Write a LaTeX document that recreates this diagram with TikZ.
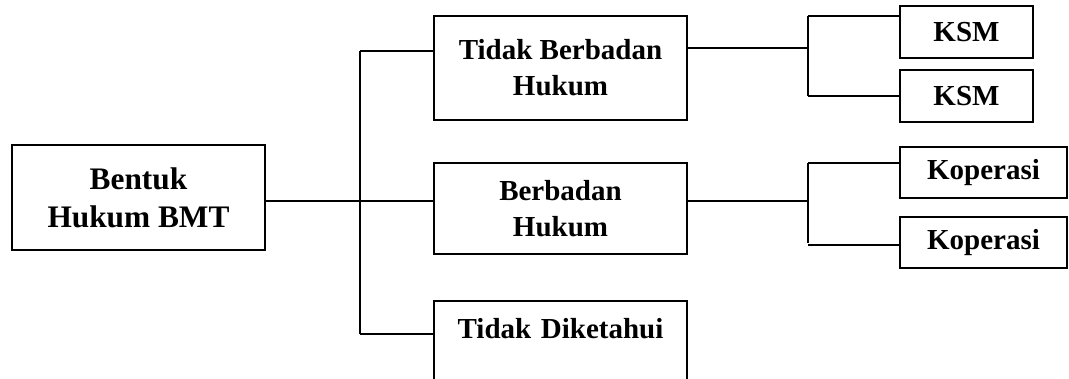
\documentclass[tikz,border=0pt]{standalone}
\usepackage{fontspec}
\setmainfont{Liberation Serif}
\begin{document}
\begin{tikzpicture}[x=0.75pt,y=-0.75pt,
  box/.style={draw,line width=1.3pt,inner sep=0pt,align=center,
    font=\fontsize{21.75}{27}\selectfont\bfseries},
  link/.style={line width=1.5pt}]
\clip (0,0) rectangle (1069,378);

% main boxes
\node[box,minimum width=189.75pt,minimum height=78.75pt,
  font=\fontsize{23.5}{28.5}\selectfont\bfseries] (bentuk) at (138.5,197.5) {Bentuk\\Hukum BMT};
\node[box,minimum width=189.75pt,minimum height=78pt] (tbh) at (560.5,68) {Tidak Berbadan\\Hukum};
\node[box,minimum width=189.75pt,minimum height=68.25pt] (bh) at (560.5,208.5) {Berbadan\\Hukum};
\node[box,anchor=base,text width=189.75pt,text height=27.75pt,text depth=61.5pt] (td) at (560.5,338) {Tidak Diketahui};

% leaf boxes
\node[box,minimum width=99.75pt,minimum height=39pt] (ksma) at (966.5,32) {KSM};
\node[box,minimum width=99.75pt,minimum height=39pt] (ksmb) at (966.5,96) {KSM};
\node[box,minimum width=125.25pt,minimum height=38.25pt] (kopa) at (983.5,172.5) {Koperasi};
\node[box,minimum width=125.25pt,minimum height=38.25pt] (kopb) at (983.5,242.5) {Koperasi};

% main trunk
\coordinate (tTop) at (360,51);
\coordinate (tMid) at (360,201);
\coordinate (tBot) at (360,334);
\draw[link] (tTop) -- (tBot);
\draw[link] (bentuk.east |- tMid) -- (bh.west |- tMid);
\draw[link] (tTop) -- (tbh.west |- tTop);
\draw[link] (tBot) -- (td.west |- tBot);

% upper sub-trunk
\coordinate (uTop) at (808,16);
\coordinate (uMid) at (808,48);
\coordinate (uBot) at (808,96);
\draw[link] (uTop) -- (uBot);
\draw[link] (tbh.east |- uMid) -- (uMid);
\draw[link] (uTop) -- (ksma.west |- uTop);
\draw[link] (uBot) -- (ksmb.west |- uBot);

% lower sub-trunk
\coordinate (lTop) at (808,163);
\coordinate (lMid) at (808,201);
\coordinate (lBot) at (808,243);
\coordinate (lLow) at (808,245);
\draw[link] (lTop) -- (lBot);
\draw[link] (bh.east |- lMid) -- (lMid);
\draw[link] (lTop) -- (kopa.west |- lTop);
\draw[link] (lLow) -- (kopb.west |- lLow);
\end{tikzpicture}
\end{document}
